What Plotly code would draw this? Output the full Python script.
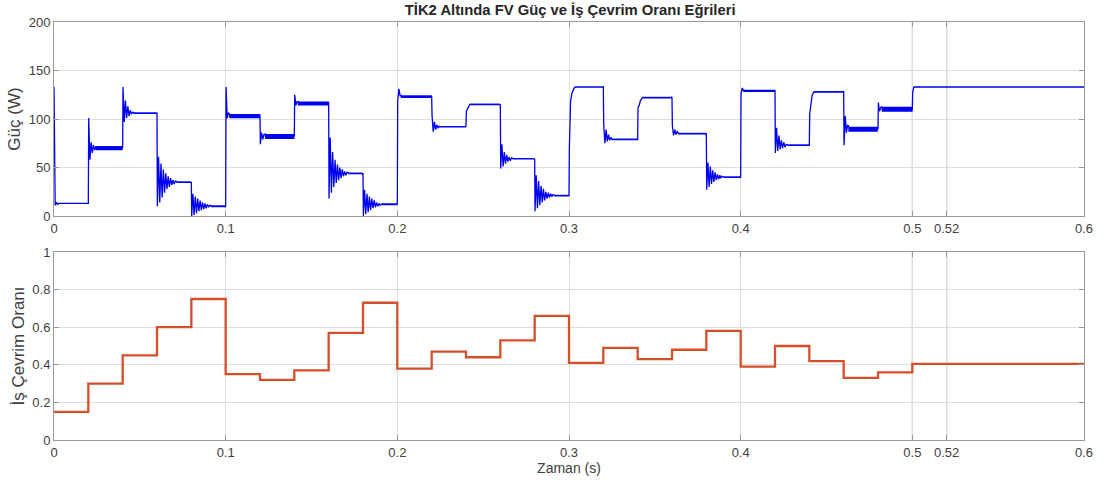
import numpy as np
import plotly.graph_objects as go
from plotly.subplots import make_subplots

# ---------------- data ----------------
seg_start = [0.00, 0.02, 0.04, 0.06, 0.08, 0.10, 0.12, 0.14, 0.16, 0.18,
             0.20, 0.22, 0.24, 0.26, 0.28, 0.30, 0.32, 0.34, 0.36, 0.38,
             0.40, 0.42, 0.44, 0.46, 0.48, 0.50]
t_final = 0.60

# duty cycle per segment
duty = [0.15, 0.30, 0.45, 0.60, 0.75, 0.35, 0.32, 0.37, 0.57, 0.73,
        0.38, 0.47, 0.44, 0.53, 0.66, 0.41, 0.49, 0.43, 0.48, 0.58,
        0.39, 0.50, 0.42, 0.33, 0.36, 0.405]

# settled PV power per segment (W)
power_level = [13, 70, 106, 35, 10, 103, 82, 116, 44, 12,
               123, 92, 115, 59, 21, 133, 79, 122, 85, 40,
               129, 73, 128, 89.5, 110, 133]

# half-width of the steady ripple band (W)
ripple = [0.3, 2.0, 0.6, 0.5, 0.8, 2.0, 2.5, 2.0, 0.5, 0.8,
          1.2, 0.5, 0.5, 0.5, 0.5, 0.3, 0.5, 0.5, 0.5, 0.5,
          1.0, 0.5, 0.6, 2.5, 2.5, 0.3]

# transient peaks (W) after each change of duty cycle
ringing = [
    [133, 11, 14, 12],
    [101, 58, 76, 65, 73, 68],
    [133, 97, 119, 101, 113, 103, 109, 105, 107],
    [10, 61, 14, 54, 19, 48, 24, 44, 28, 41, 30, 39, 32, 37, 33, 36],
    [0, 23, 1, 20, 3, 18, 5, 16, 6, 14, 7, 13, 8, 12, 9, 11],
    [133, 101, 106],
    [74, 86, 79, 84],
    [125, 114, 118],
    [18, 81, 24, 66, 30, 58, 34, 53, 37, 50, 39, 48, 41, 46, 42, 45],
    [0, 27, 2, 23, 4, 20, 6, 18, 8, 16, 9, 14, 10, 13, 11, 12],
    [118, 131, 124],
    [104, 87, 97, 89, 94, 91],
    [108, 110, 113],
    [49, 74, 51, 66, 54, 63, 56, 61, 57, 60],
    [5, 42, 8, 36, 11, 31, 14, 28, 16, 25, 18, 24, 19, 23, 20, 22],
    [70, 118, 126, 130, 132],
    [95, 75, 89, 77, 84, 78, 81],
    [112, 114, 119, 121],
    [93, 83, 89, 84, 87],
    [27, 55, 30, 51, 33, 47, 35, 45, 37, 43, 38, 42, 39, 41],
    [126, 132, 129],
    [65, 91, 67, 83, 69, 78, 70, 76, 71, 74],
    [105, 118, 124, 127],
    [73, 103, 86, 94],
    [117, 108, 112],
    [128, 133],
]

x_ticks = [0, 0.1, 0.2, 0.3, 0.4, 0.5, 0.52, 0.6]
x_tick_text = ["0", "0.1", "0.2", "0.3", "0.4", "0.5", "0.52", "0.6"]
p_ticks = [0, 50, 100, 150, 200]
d_ticks = [0, 0.2, 0.4, 0.6, 0.8, 1]
d_tick_text = ["0", "0.2", "0.4", "0.6", "0.8", "1"]

# ---------------- build traces ----------------
HALF_PERIOD = 0.0007
RIPPLE_STEP = 0.00012
seg_end = seg_start[1:] + [t_final]

t_p, p_p = [], []
for i, (t0, t1) in enumerate(zip(seg_start, seg_end)):
    ring = ringing[i]
    if i == 0:
        times = [t0 + k * HALF_PERIOD for k in range(len(ring))]
    else:
        times = [t0 + (k + 0.3) * HALF_PERIOD for k in range(len(ring))]
    t_p += times
    p_p += ring
    tr = times[-1] + HALF_PERIOD
    lv, rp = power_level[i], ripple[i]
    if rp >= 0.5:
        n = int((t1 - tr) / RIPPLE_STEP)
        for k in range(n):
            t_p.append(tr + k * RIPPLE_STEP)
            p_p.append(lv + (rp if k % 2 == 0 else -rp))
    else:
        t_p.append(tr)
        p_p.append(lv)
    t_p.append(t1)
    p_p.append(lv)

t_d = seg_start + [t_final]
d_d = duty + [duty[-1]]

fig = make_subplots(rows=2, cols=1, vertical_spacing=0.0)

fig.add_trace(go.Scatter(x=t_p, y=p_p, mode="lines",
                         line=dict(color="#0000F0", width=1.3),
                         showlegend=False, hoverinfo="skip"), row=1, col=1)
fig.add_trace(go.Scatter(x=t_d, y=d_d, mode="lines", line_shape="hv",
                         line=dict(color="#D4502A", width=2.3),
                         showlegend=False, hoverinfo="skip"), row=2, col=1)

font_family = "Liberation Sans, Arial, sans-serif"
tick_font = dict(family=font_family, size=13, color="#404040")
axis_common = dict(showline=True, linecolor="#9a9a9a", linewidth=1,
                   mirror="ticks", ticks="inside", ticklen=5,
                   tickcolor="#9a9a9a", showgrid=True, gridcolor="#dedede",
                   gridwidth=1, zeroline=False, tickfont=tick_font)

fig.update_xaxes(range=[0, 0.6], tickvals=x_ticks, ticktext=x_tick_text,
                 **axis_common)
fig.update_yaxes(**axis_common)

ytitle_font = dict(family=font_family, size=17, color="#404040")
fig.update_layout(
    xaxis=dict(domain=[0, 1], anchor="y"),
    yaxis=dict(domain=[0.5359, 1], range=[0, 200], tickvals=p_ticks,
               title=dict(text="Güç (W)", standoff=3, font=ytitle_font)),
    xaxis2=dict(domain=[0, 1], anchor="y2",
                title=dict(text="Zaman (s)", standoff=4,
                           font=dict(family=font_family, size=14, color="#404040"))),
    yaxis2=dict(domain=[0, 0.4498], range=[0, 1], tickvals=d_ticks,
                ticktext=d_tick_text,
                title=dict(text="İş Çevrim Oranı", standoff=3, font=ytitle_font)),
)

# darker reference lines at 0.5 and 0.52
for xv in [0.5, 0.52]:
    for yref, ymax in [("y", 200), ("y2", 1)]:
        fig.add_shape(type="line", x0=xv, x1=xv, y0=0, y1=ymax,
                      xref="x" if yref == "y" else "x2", yref=yref,
                      line=dict(color="#909090", width=1), layer="below")

fig.update_layout(
    width=1105, height=488,
    margin=dict(l=54, r=19, t=22, b=48),
    paper_bgcolor="white", plot_bgcolor="white",
    title=dict(text="<b>TİK2 Altında FV Güç ve İş Çevrim Oranı Eğrileri</b>",
               x=0.516, xanchor="center", y=0.979, yanchor="middle",
               yref="container",
               font=dict(family=font_family, size=14.8, color="#262626")),
)

fig.write_html("out.html")
